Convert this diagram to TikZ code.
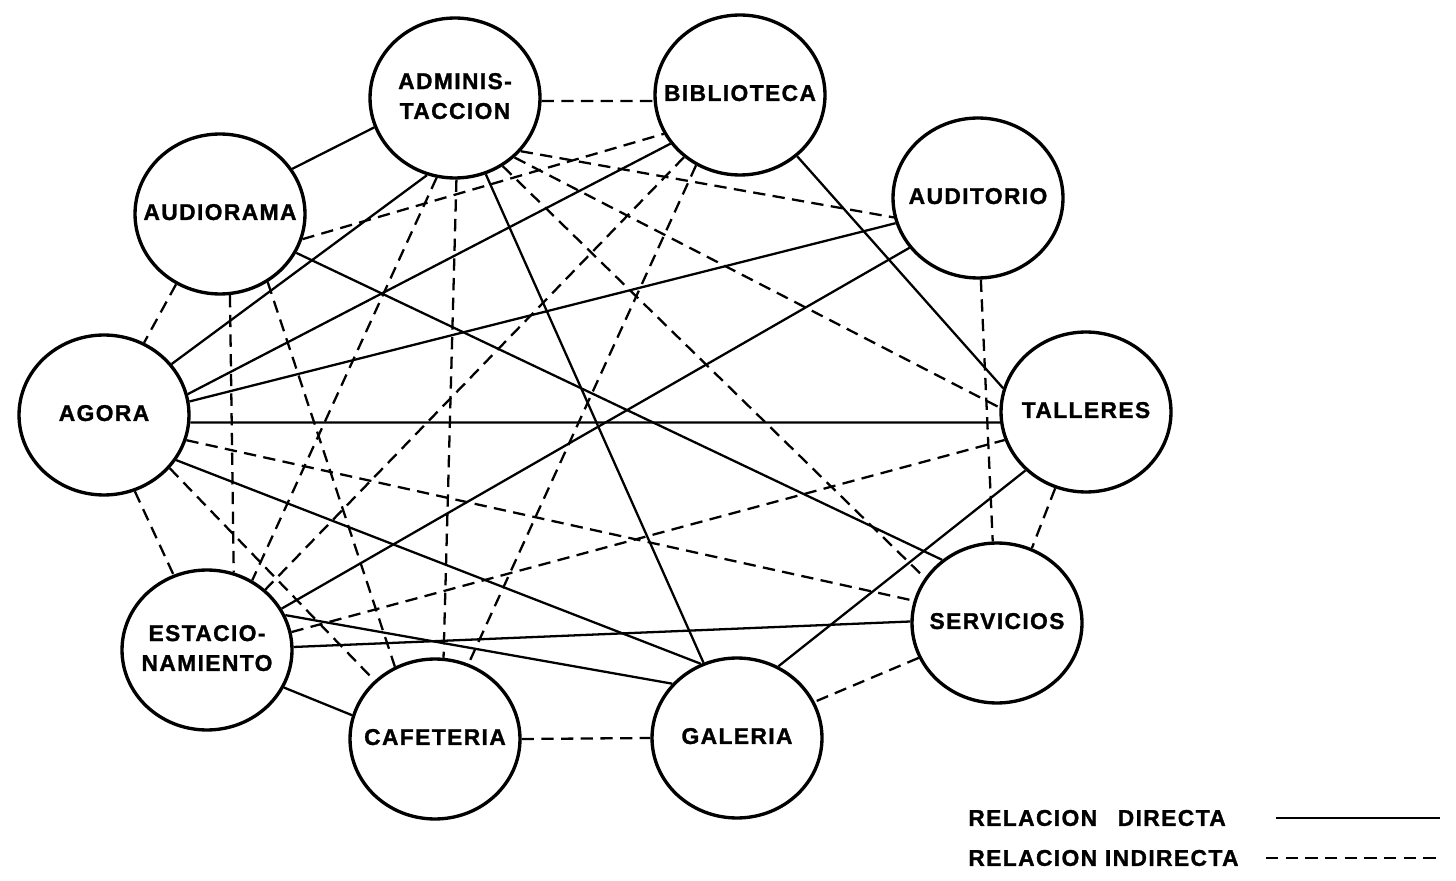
\documentclass[tikz,border=0pt]{standalone}
\usepackage{fontspec}
\newfontfamily\plano[LetterSpace=6,BoldFeatures={FakeBold=1.2}]{Liberation Sans}
\usetikzlibrary{shapes.geometric}

\newcommand{\zona}[1]{\makebox[0pt]{\begin{tabular}{@{}c@{}}#1\end{tabular}}}

\begin{document}
\begin{tikzpicture}[
    x=0.02cm, y=-0.02cm,
    area/.style={
        ellipse, draw=black, line width=1.9pt,
        minimum width=3.4cm, minimum height=3.2cm, inner sep=0pt,
        font=\plano\bfseries\fontsize{13}{17}\selectfont
    },
    direct/.style={line width=1.3pt, draw=black},
    indirect/.style={line width=1.3pt, draw=black, dash pattern=on 7pt off 4.2pt},
    legend/.style={anchor=west, inner sep=0pt,
        font=\plano\bfseries\fontsize{13}{17}\selectfont},
]
\useasboundingbox (0,0) rectangle (1456,881);

% ── Areas ────────────────────────────────────────────────────
\node[area] (adm) at (455, 98)  {\zona{ADMINIS-\\TACCION}};
\node[area] (bib) at (740, 95)  {\zona{BIBLIOTECA}};
\node[area] (aud) at (220,214)  {\zona{AUDIORAMA}};
\node[area] (ato) at (978,198)  {\zona{AUDITORIO}};
\node[area] (ago) at (104,415)  {\zona{AGORA}};
\node[area] (tal) at (1086,412) {\zona{TALLERES}};
\node[area] (est) at (207,650)  {\zona{ESTACIO-\\NAMIENTO}};
\node[area] (ser) at (997,623)  {\zona{SERVICIOS}};
\node[area] (caf) at (435,739)  {\zona{CAFETERIA}};
\node[area] (gal) at (737,738)  {\zona{GALERIA}};

% ── Direct relations ─────────────────────────────────────────
\draw[direct] (aud.32)  -- (adm.200);
\draw[direct] (ago.37)  -- (adm.250);
\draw[direct] (ago.14)  -- (bib.215);
\draw[direct] (ago.9)   -- (ato.197);
\draw[direct] (ago.-5)  -- (tal.187);
\draw[direct] (ago.-32) -- (gal.116);
\draw[direct] (adm.-68) -- (gal.114);
\draw[direct] (est.24)  -- (gal.140);
\draw[direct] (est.2)   -- (ser.179);
\draw[direct] (est.29)  -- (ato.216);
\draw[direct] (est.-26) -- (caf.164);
\draw[direct] (gal.60)  -- (tal.224);
\draw[direct] (bib.-47) -- (tal.164);
\draw[direct] (aud.-27) -- (ser.131);

% ── Indirect relations ───────────────────────────────────────
\draw[indirect] (adm.-2)  -- (bib.184);
\draw[indirect] (aud.238) -- (ago.61);
\draw[indirect] (aud.-83) -- (est.71);
\draw[indirect] (aud.-55) -- (caf.119);
\draw[indirect] (aud.-17) -- (bib.207);
\draw[indirect] (adm.-39) -- (ato.193);
\draw[indirect] (adm.-45) -- (tal.177);
\draw[indirect] (adm.-55) -- (ser.148);
\draw[indirect] (adm.-89) -- (caf.84);
\draw[indirect] (adm.257) -- (est.57);
\draw[indirect] (bib.228) -- (est.46);
\draw[indirect] (bib.238) -- (caf.66);
\draw[indirect] (ago.-17) -- (ser.165);
\draw[indirect] (ago.-68) -- (est.114);
\draw[indirect] (ago.-39) -- (caf.136);
\draw[indirect] (est.12)  -- (tal.199);
\draw[indirect] (tal.248) -- (ser.65);
\draw[indirect] (ser.204) -- (gal.25);
\draw[indirect] (caf.0)   -- (gal.180);
\draw[indirect] (ato.-88) -- (ser.93);

% ── Legend ───────────────────────────────────────────────────
\node[legend] (ldir) at (968,818) {RELACION\hspace{0.9em}DIRECTA};
\node[legend] (lind) at (968,858) {RELACION INDIRECTA};
\coordinate (ldirA) at (1276,818);
\coordinate (ldirB) at (1440,818);
\coordinate (lindA) at (1266,858);
\coordinate (lindB) at (1440,858);
\draw[direct]   (ldirA) -- (ldirB);
\draw[indirect] (lindA) -- (lindB);

\end{tikzpicture}
\end{document}
